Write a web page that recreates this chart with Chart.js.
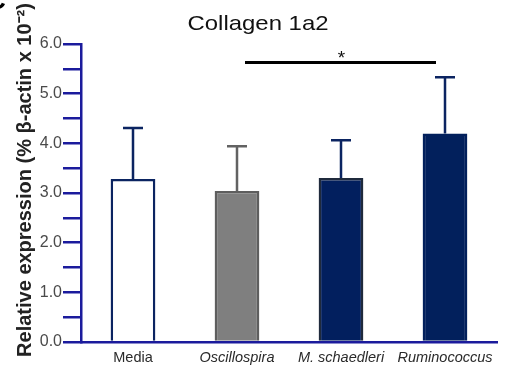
<!DOCTYPE html>
<html>
<head>
<meta charset="utf-8">
<script src="https://cdn.jsdelivr.net/npm/chart.js@4"></script>
<style>
html,body{margin:0;padding:0;background:#fff;}
#wrap{width:510px;height:365px;}
</style>
</head>
<body>
<div id="wrap"><canvas id="c" width="510" height="365"></canvas></div>
<script>
const categories = ['Media', 'Oscillospira', 'M. schaedleri', 'Ruminococcus'];
const means = [3.28, 3.04, 3.30, 4.20];
const errorTops = [4.31, 3.94, 4.06, 5.33];
const yTickValues = [0, 1, 2, 3, 4, 5, 6];
const titleText = 'Collagen 1a2';
const yAxisTitle = 'Relative expression (% β-actin x 10⁻²)';
const sigFrom = 1, sigTo = 3, sigLevel = 5.63, sigMark = '*';

const fills = ['#ffffff', '#7f7f7f', '#021f5e', '#02205c'];
const borders = ['#0b2461', '#5e5e5e', '#1f2a3c', '#02205c'];
const errColors = ['#0b2461', '#626262', '#0b2461', '#0b2461'];
const axisBlue = '#1b1b9c';
const FONT = '"Liberation Sans", Arial, sans-serif';

const overlay = {
  id: 'overlay',
  afterDatasetsDraw(chart) {
    const ctx = chart.ctx;
    const xs = chart.scales.x, ys = chart.scales.y;
    // error bars
    ctx.save();
    ctx.lineWidth = 2.5;
    errorTops.forEach((v, i) => {
      const x = xs.getPixelForValue(i);
      const y0 = ys.getPixelForValue(means[i]);
      const y1 = ys.getPixelForValue(v);
      ctx.strokeStyle = errColors[i];
      ctx.beginPath();
      ctx.moveTo(x, y0); ctx.lineTo(x, y1);
      ctx.moveTo(x - 10, y1); ctx.lineTo(x + 10, y1);
      ctx.stroke();
    });
    // significance line
    const sy = ys.getPixelForValue(sigLevel);
    const sx0 = xs.getPixelForValue(sigFrom) + 8;
    const sx1 = xs.getPixelForValue(sigTo) - 9;
    ctx.strokeStyle = '#000';
    ctx.lineWidth = 3;
    ctx.beginPath(); ctx.moveTo(sx0, sy); ctx.lineTo(sx1, sy); ctx.stroke();
    ctx.fillStyle = '#111';
    ctx.font = '19px ' + FONT;
    ctx.textAlign = 'center'; ctx.textBaseline = 'middle';
    ctx.fillText(sigMark, (sx0 + sx1) / 2 + 1, sy - 4);
    // title (slightly stretched horizontally like the source image)
    ctx.save();
    ctx.translate(258, 24);
    ctx.scale(1.14, 1);
    ctx.font = '21px ' + FONT;
    ctx.fillStyle = '#111';
    ctx.fillText(titleText, 0, 0);
    ctx.restore();
    // y axis title
    ctx.save();
    ctx.translate(31, 180);
    ctx.rotate(-Math.PI / 2);
    ctx.font = 'bold 20px ' + FONT;
    ctx.fillStyle = '#222';
    ctx.textBaseline = 'alphabetic';
    ctx.fillText(yAxisTitle, 0, 0);
    ctx.restore();
    // panel letter fragment
    ctx.fillStyle = '#000';
    ctx.font = 'bold 26px ' + FONT;
    ctx.textAlign = 'left'; ctx.textBaseline = 'alphabetic';
    ctx.fillText('C', -13, 9);
    ctx.restore();
  }
};

new Chart(document.getElementById('c'), {
  type: 'bar',
  data: {
    labels: categories,
    datasets: [{
      data: means,
      backgroundColor: fills,
      borderColor: borders,
      borderWidth: 2.5,
      barPercentage: 0.43,
      categoryPercentage: 1.0
    }]
  },
  options: {
    responsive: false,
    animation: false,
    events: [],
    layout: { padding: { left: 0, top: 44, right: 13, bottom: 0 } },
    plugins: { legend: { display: false }, title: { display: false }, tooltip: { enabled: false } },
    scales: {
      x: {
        afterFit(s) { s.height = 23; },
        grid: { display: false, drawTicks: false },
        border: { display: true, color: axisBlue, width: 2.5 },
        ticks: {
          padding: 7,
          color: '#2a2a2a',
          font: (c) => ({ family: FONT, size: 14.5, style: c.index > 0 ? 'italic' : 'normal' })
        }
      },
      y: {
        min: 0, max: 6,
        afterFit(s) { s.width = 81; },
        afterBuildTicks(s) {
          const t = [];
          for (let i = 0; i <= 12; i++) t.push({ value: i * 0.5 });
          s.ticks = t;
        },
        grid: { drawOnChartArea: false, drawTicks: true, tickLength: 18, color: axisBlue, lineWidth: 2.5 },
        border: { display: true, color: axisBlue, width: 2.5 },
        ticks: {
          padding: 1,
          color: '#4a4a4a',
          font: { family: FONT, size: 16 },
          callback: (v) => yTickValues.includes(v) ? v.toFixed(1) : ''
        }
      }
    }
  },
  plugins: [overlay]
});
</script>
</body>
</html>
